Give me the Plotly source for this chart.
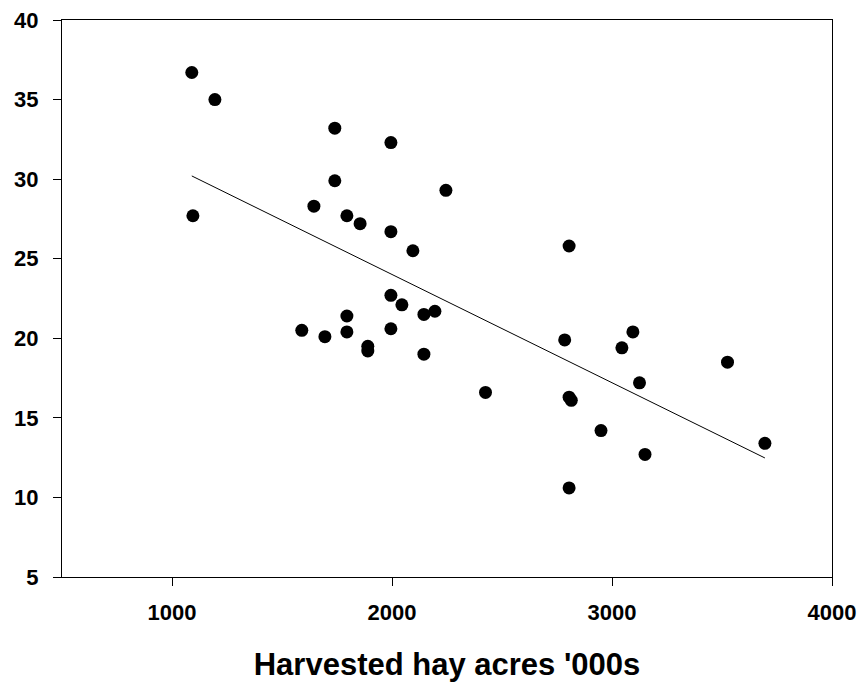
import numpy as np
import plotly.graph_objects as go

hay_acres = [1090, 1195, 1095, 1740, 1995, 1740, 2245, 1645, 1795, 1855,
             1995, 2095, 2805, 1995, 2045, 2145, 2195, 1795, 1590, 1695,
             1795, 1995, 1890, 1890, 2145, 2425, 2785, 3095, 3045, 3525,
             3125, 2805, 2815, 2950, 3150, 3695, 2805]
y_values = [36.7, 35.0, 27.7, 33.2, 32.3, 29.9, 29.3, 28.3, 27.7, 27.2,
            26.7, 25.5, 25.8, 22.7, 22.1, 21.5, 21.7, 21.4, 20.5, 20.1,
            20.4, 20.6, 19.5, 19.2, 19.0, 16.6, 19.9, 20.4, 19.4, 18.5,
            17.2, 16.3, 16.1, 14.2, 12.7, 13.4, 10.6]
x_ticks = [1000, 2000, 3000, 4000]
y_ticks = [5, 10, 15, 20, 25, 30, 35, 40]
x_title = "Harvested hay acres '000s"

slope, intercept = np.polyfit(hay_acres, y_values, 1)
fit_x = [min(hay_acres), max(hay_acres)]
fit_y = [slope * v + intercept for v in fit_x]

fig = go.Figure()
fig.add_trace(go.Scatter(x=fit_x, y=fit_y, mode="lines",
                         line=dict(color="black", width=1), showlegend=False))
fig.add_trace(go.Scatter(x=hay_acres, y=y_values, mode="markers",
                         marker=dict(color="black", size=13), showlegend=False))

font_family = "Liberation Sans, Arial, sans-serif"
fig.update_layout(
    width=863, height=688,
    margin=dict(l=62, r=31, t=20, b=111),
    plot_bgcolor="white", paper_bgcolor="white",
    font=dict(family=font_family, color="black"),
    xaxis=dict(range=[500, 4000], tickvals=x_ticks, ticks="outside", ticklen=8,
               tickcolor="black", showline=True, linecolor="black", linewidth=1,
               mirror=True, showgrid=False, zeroline=False, automargin=False,
               tickfont=dict(size=22, family=font_family, weight="bold"),
               ticklabelstandoff=8,
               title=dict(text=x_title, standoff=28,
                          font=dict(size=31, family=font_family, weight="bold"))),
    yaxis=dict(range=[5, 40], tickvals=y_ticks, ticks="outside", ticklen=8,
               tickcolor="black", showline=True, linecolor="black", linewidth=1,
               mirror=True, showgrid=False, zeroline=False, automargin=False,
               tickfont=dict(size=22, family=font_family, weight="bold"),
               ticklabelstandoff=10),
)

fig.write_html("out.html")
